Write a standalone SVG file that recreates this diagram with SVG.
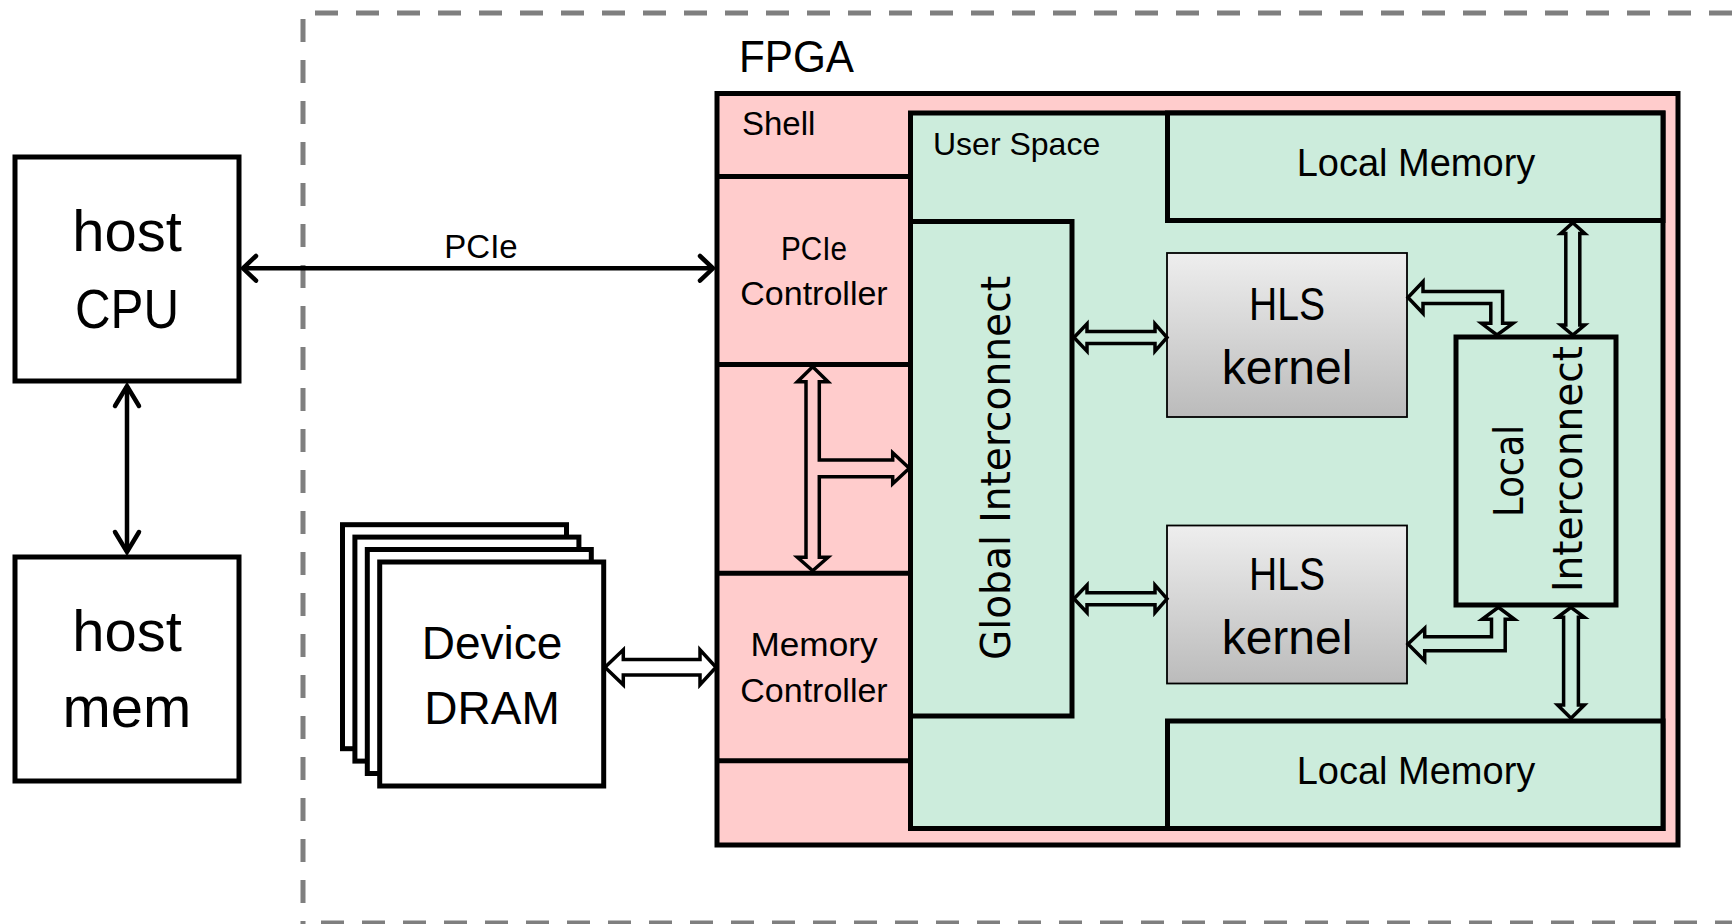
<svg xmlns="http://www.w3.org/2000/svg" width="1732" height="924" viewBox="0 0 1732 924">
<style>
.box{fill:#fff;stroke:#000;stroke-width:5;stroke-linejoin:miter}
.pink{fill:#ffcccc;stroke:#000;stroke-width:5}
.green{fill:#ccecdc;stroke:#000;stroke-width:5}
.div{stroke:#000;stroke-width:5;fill:none}
.kern{fill:url(#kg);stroke:#000;stroke-width:1.8}
.t{font-family:"Liberation Sans",Arial,sans-serif;fill:#000;text-anchor:middle}
.ts{font-family:"Liberation Sans",Arial,sans-serif;fill:#000}
.tv{font-family:"DejaVu Sans",Verdana,sans-serif;fill:#000;text-anchor:middle}
.blk{fill:none;stroke:#000;stroke-width:3.5;stroke-linejoin:miter}
.ln{fill:none;stroke:#000;stroke-width:4.5}
.chev{fill:none;stroke:#000;stroke-width:4.5;stroke-linecap:round;stroke-linejoin:miter}
.dash{fill:none;stroke:#7f7f7f;stroke-width:5;stroke-dasharray:23 18}
</style>
<defs>
<linearGradient id="kg" x1="0" y1="0" x2="0" y2="1">
<stop offset="0" stop-color="#eeeeee"/>
<stop offset="1" stop-color="#bbbbbb"/>
</linearGradient>
</defs>
<rect width="1732" height="924" fill="#fff"/>

<g id="fpga-boundary">
<line class="dash" x1="315" y1="13" x2="1740" y2="13"/>
<line class="dash" x1="303" y1="19" x2="303" y2="930"/>
<line class="dash" x1="321" y1="923" x2="1740" y2="923"/>
<text class="ts" x="739" y="72" font-size="45" textLength="115" lengthAdjust="spacingAndGlyphs">FPGA</text>
</g>

<g id="host-cpu">
<rect class="box" x="15" y="157" width="224" height="224"/>
<text class="t" x="127" y="251" font-size="58">host</text>
<text class="t" x="127" y="328" font-size="56" textLength="104" lengthAdjust="spacingAndGlyphs">CPU</text>
</g>

<g id="host-mem">
<rect class="box" x="15" y="557" width="224" height="224"/>
<text class="t" x="127" y="651" font-size="58">host</text>
<text class="t" x="127" y="727" font-size="58">mem</text>
</g>

<g id="device-dram">
<rect class="box" x="342.5" y="524.7" width="224" height="224"/>
<rect class="box" x="354.9" y="537.1" width="224" height="224"/>
<rect class="box" x="367.3" y="549.5" width="224" height="224"/>
<rect class="box" x="379.7" y="562" width="224" height="224"/>
<text class="t" x="492" y="659" font-size="46">Device</text>
<text class="t" x="492" y="724" font-size="46">DRAM</text>
</g>

<g id="shell">
<rect class="pink" x="717" y="93.5" width="961" height="751.5"/>
<line class="div" x1="717" y1="176.5" x2="911" y2="176.5"/>
<line class="div" x1="717" y1="364.5" x2="911" y2="364.5"/>
<line class="div" x1="717" y1="573.3" x2="911" y2="573.3"/>
<line class="div" x1="717" y1="760.8" x2="911" y2="760.8"/>
<text class="ts" x="742" y="135" font-size="33">Shell</text>
</g>

<g id="pcie-controller">
<text class="t" x="814" y="260" font-size="33" textLength="66" lengthAdjust="spacingAndGlyphs">PCIe</text>
<text class="t" x="814" y="305" font-size="34">Controller</text>
</g>

<g id="memory-controller">
<text class="t" x="814" y="656" font-size="34" textLength="127" lengthAdjust="spacingAndGlyphs">Memory</text>
<text class="t" x="814" y="701.5" font-size="34">Controller</text>
</g>

<g id="user-space">
<rect class="green" x="910.5" y="113" width="752.5" height="715.5"/>
<text class="ts" x="933" y="155" font-size="32">User Space</text>
</g>

<g id="local-memory-top">
<rect class="green" x="1167.5" y="113" width="495.5" height="107.5"/>
<text class="t" x="1416" y="176" font-size="38">Local Memory</text>
</g>

<g id="local-memory-bottom">
<rect class="green" x="1167.5" y="721" width="495.5" height="107.5"/>
<text class="t" x="1416" y="784" font-size="38">Local Memory</text>
</g>

<g id="global-interconnect">
<rect class="green" x="910.5" y="221.5" width="161.5" height="494.5"/>
<text class="tv" transform="translate(1010,468) rotate(-90)" font-size="40" textLength="384" lengthAdjust="spacingAndGlyphs">Global Interconnect</text>
</g>

<g id="hls-kernel-1">
<rect class="kern" x="1167" y="253" width="240" height="164"/>
<text class="t" x="1287" y="320" font-size="46" textLength="76" lengthAdjust="spacingAndGlyphs">HLS</text>
<text class="t" x="1287" y="384" font-size="48">kernel</text>
</g>

<g id="hls-kernel-2">
<rect class="kern" x="1167" y="525.5" width="240" height="158"/>
<text class="t" x="1287" y="590" font-size="46" textLength="76" lengthAdjust="spacingAndGlyphs">HLS</text>
<text class="t" x="1287" y="654" font-size="48">kernel</text>
</g>

<g id="local-interconnect">
<rect class="green" x="1456" y="337" width="160" height="268"/>
<text class="tv" transform="translate(1523,471) rotate(-90)" font-size="40" textLength="92" lengthAdjust="spacingAndGlyphs">Local</text>
<text class="tv" transform="translate(1582,469) rotate(-90)" font-size="40" textLength="246" lengthAdjust="spacingAndGlyphs">Interconnect</text>
</g>

<g id="connectors">
<line class="ln" x1="243" y1="268.3" x2="713" y2="268.3"/>
<polyline class="chev" points="256,256 243,268.3 256,280.6"/>
<polyline class="chev" points="700,256 713,268.3 700,280.6"/>
<text class="t" x="481" y="258" font-size="33">PCIe</text>

<line class="ln" x1="127" y1="386" x2="127" y2="552"/>
<polyline class="chev" points="115,406 127,386 139,406"/>
<polyline class="chev" points="115,532 127,552 139,532"/>

<polygon class="blk" points="605,667.3 623.3,649.8 623.3,659.5 700,659.5 700,649.8 716,667.3 700,684.8 700,675.1 623.3,675.1 623.3,684.8"/>

<polygon class="blk" points="812.7,366.7 828,381.7 819.3,381.7 819.3,460 892.7,460 892.7,452.8 909.3,468.3 892.7,483.8 892.7,476.7 819.3,476.7 819.3,557.3 828,557.3 812.7,570.7 797.4,557.3 806,557.3 806,381.7 797.4,381.7"/>

<polygon class="blk" points="1074,337.5 1087,323.8 1087,331.5 1155,331.5 1155,323.8 1167,337.5 1155,351.2 1155,343.5 1087,343.5 1087,351.2"/>
<polygon class="blk" points="1074,598.8 1087,585.1 1087,592.8 1155,592.8 1155,585.1 1167,598.8 1155,612.5 1155,604.8 1087,604.8 1087,612.5"/>

<polygon class="blk" points="1408,297.5 1423,281.7 1423,291.5 1502.6,291.5 1502.6,323.3 1513,323.3 1497,335 1481.5,323.3 1490.8,323.3 1490.8,303.5 1423,303.5 1423,313.3"/>
<polygon class="blk" points="1408,644 1424.7,628.3 1424.7,636.7 1491.5,636.7 1491.5,619.3 1482.2,619.3 1498.4,607.3 1514.5,619.3 1505.2,619.3 1505.2,650.7 1424.7,650.7 1424.7,660.7"/>

<polygon class="blk" points="1572.8,222.7 1584.8,233.5 1579.8,233.5 1579.8,325 1584.8,325 1572.8,335 1560.8,325 1565.8,325 1565.8,233.5 1560.8,233.5"/>
<polygon class="blk" points="1571,607.3 1584.4,617.3 1578.4,617.3 1578.4,705 1584.4,705 1571,718.3 1557.6,705 1563.6,705 1563.6,617.3 1557.6,617.3"/>
</g>
</svg>
